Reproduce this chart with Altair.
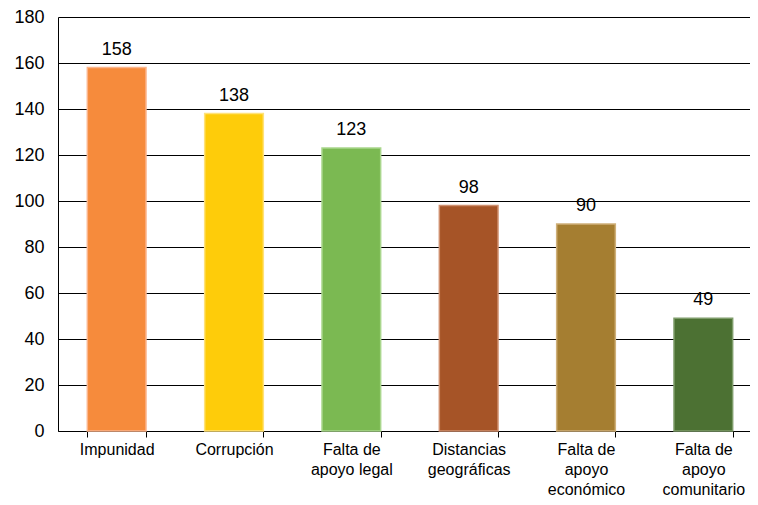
import altair as alt
import pandas as pd

categories = [
    "Impunidad",
    "Corrupción",
    "Falta de\napoyo legal",
    "Distancias\ngeográficas",
    "Falta de\napoyo\neconómico",
    "Falta de\napoyo\ncomunitario",
]
values = [158, 138, 123, 98, 90, 49]
colors = ["#F68B3C", "#FECC0A", "#7BB952", "#A65427", "#A57E31", "#4C7133"]
edge_colors = ["#FBB48A", "#FFE27A", "#A9D68C", "#CF8F6E", "#CFB07A", "#7E9C6A"]

df = pd.DataFrame({"cat": categories, "val": values, "col": colors, "edge": edge_colors})

FONT = "Liberation Sans"

x = alt.X(
    "cat:N",
    sort=None,
    title=None,
    scale=alt.Scale(paddingInner=0.5, paddingOuter=0.25, range=[0, 704]),
    axis=alt.Axis(
        labelExpr="split(datum.label, '\\n')",
        labelAngle=0,
        labelFontSize=16,
        labelLineHeight=20,
        labelColor="#000",
        labelFont=FONT,
        labelPadding=4,
        tickBand="extent",
        tickSize=6,
        tickColor="#000",
        domainColor="#000",
        labelBaseline="top",
    ),
)
y = alt.Y(
    "val:Q",
    title=None,
    scale=alt.Scale(domain=[0, 180], nice=False),
    axis=alt.Axis(
        values=list(range(0, 181, 20)),
        ticks=False,
        labelFontSize=18,
        labelFont=FONT,
        labelColor="#000",
        labelPadding=14,
        domainColor="#000",
        gridColor="#000",
        gridWidth=1,
        gridOpacity=1,
    ),
)

base = alt.Chart(df)
bars = base.mark_bar(strokeWidth=1.5).encode(
    x=x,
    y=y,
    color=alt.Color("col:N", scale=None),
    stroke=alt.Stroke("edge:N", scale=None),
)
text = base.mark_text(baseline="bottom", dy=-9, fontSize=18, font=FONT, color="#000").encode(
    x=alt.X("cat:N", sort=None),
    y="val:Q",
    text="val:Q",
)

chart = (
    (bars + text)
    .properties(
        width=692,
        height=414,
        padding={"left": 50, "top": 9, "right": 0, "bottom": 66},
        autosize=alt.AutoSizeParams(type="none"),
    )
    .configure_view(stroke=None)
    .configure_axis(labelFont=FONT)
)

chart.save("out.html", embed_options={"renderer": "svg", "actions": False})
